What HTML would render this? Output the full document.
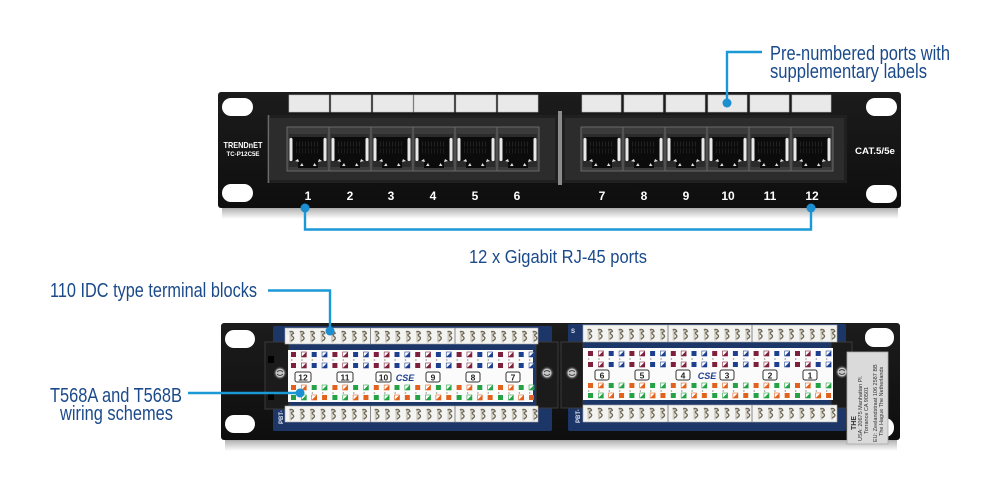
<!DOCTYPE html>
<html>
<head>
<meta charset="utf-8">
<style>
html,body{margin:0;padding:0;background:#fff;}
body{width:1000px;height:500px;overflow:hidden;}
svg{display:block;font-family:"Liberation Sans",Arial,sans-serif;}
</style>
</head>
<body>
<svg width="1000" height="500" viewBox="0 0 1000 500" xmlns="http://www.w3.org/2000/svg">
<defs>
  <linearGradient id="sh" x1="0" y1="0" x2="0" y2="1">
    <stop offset="0" stop-color="#6e6e6e"/>
    <stop offset="0.35" stop-color="#b9b9b9"/>
    <stop offset="1" stop-color="#ffffff"/>
  </linearGradient>
  <linearGradient id="body" x1="0" y1="0" x2="0" y2="1">
    <stop offset="0" stop-color="#1c1c1c"/>
    <stop offset="1" stop-color="#0e0e0e"/>
  </linearGradient>
  <!-- RJ45 port cell 42x44 -->
  <g id="pt">
    <rect x="0" y="0" width="42" height="44" fill="#3b3b3b" stroke="#6a6a6a" stroke-width="1"/>
    <rect x="2" y="7" width="38" height="33" fill="#2b2b2b"/>
    <path d="M5 10 H37 V34 H31 V41 H11 V34 H5 Z" fill="#0b0b0b"/>
    <line x1="9" y1="17" x2="33" y2="17" stroke="#222" stroke-width="5" stroke-dasharray="1 2"/>
    <line x1="9" y1="24" x2="33" y2="24" stroke="#1c1c1c" stroke-width="5" stroke-dasharray="1 2"/>
    <rect x="2.5" y="11" width="3" height="23" rx="1.3" fill="#e8e8e8"/>
    <rect x="36.5" y="11" width="3" height="23" rx="1.3" fill="#e8e8e8"/>
    <path d="M8 34 l3 -2 l1 3 z M13 39 l2 -3 l1.5 3 z M26 39 l1.5 -3 l2 3 z M31 35 l1 -3 l3 2 z" fill="#e0e0e0"/>
  </g>
  <!-- IDC contact -->
  <g id="ct">
    <rect x="1.5" y="0.5" width="2.2" height="12" fill="#cfcabd"/>
    <path d="M1.5 2 q3.5 -1.5 4 1.5 q-3.5 1 -1 3 q3 2 -1.5 4.5" fill="none" stroke="#6c6756" stroke-width="1.3"/>
  </g>
  <g id="cr">
    <use href="#ct" x="3"/><use href="#ct" x="13.4"/><use href="#ct" x="23.8"/><use href="#ct" x="34.2"/>
    <use href="#ct" x="44.6"/><use href="#ct" x="55"/><use href="#ct" x="65.4"/><use href="#ct" x="75.8"/>
    <use href="#ct" x="88.2"/><use href="#ct" x="98.6"/><use href="#ct" x="109"/><use href="#ct" x="119.4"/>
    <use href="#ct" x="129.8"/><use href="#ct" x="140.2"/><use href="#ct" x="150.6"/><use href="#ct" x="161"/>
    <use href="#ct" x="173.4"/><use href="#ct" x="183.8"/><use href="#ct" x="194.2"/><use href="#ct" x="204.6"/>
    <use href="#ct" x="215"/><use href="#ct" x="225.4"/><use href="#ct" x="235.8"/><use href="#ct" x="246.2"/>
  </g>
  <!-- squares -->
  <rect id="qm" width="5" height="5" fill="#7e1f3c"/>
  <rect id="qn" width="5" height="5" fill="#1d3f8f"/>
  <rect id="qo" width="5" height="5" fill="#e2621d"/>
  <rect id="qg" width="5" height="5" fill="#24a244"/>
  <g id="hm"><rect width="5" height="5" fill="#fff" stroke="#7e1f3c" stroke-width=".6"/><path d="M5 0 V5 H0 Z" fill="#7e1f3c"/></g>
  <g id="hn"><rect width="5" height="5" fill="#fff" stroke="#1d3f8f" stroke-width=".6"/><path d="M5 0 V5 H0 Z" fill="#1d3f8f"/></g>
  <g id="ho"><rect width="5" height="5" fill="#fff" stroke="#e2621d" stroke-width=".6"/><path d="M5 0 V5 H0 Z" fill="#e2621d"/></g>
  <g id="hg"><rect width="5" height="5" fill="#fff" stroke="#24a244" stroke-width=".6"/><path d="M5 0 V5 H0 Z" fill="#24a244"/></g>
  <g id="r1">
    <use href="#qm" x="0"/><use href="#hm" x="10.35"/><use href="#qn" x="20.7"/><use href="#hn" x="31.05"/>
    <use href="#qm" x="41.4"/><use href="#hm" x="51.75"/><use href="#qn" x="62.1"/><use href="#hn" x="72.45"/>
    <use href="#qm" x="82.8"/><use href="#hm" x="93.15"/><use href="#qn" x="103.5"/><use href="#hn" x="113.85"/>
    <use href="#qm" x="124.2"/><use href="#hm" x="134.55"/><use href="#qn" x="144.9"/><use href="#hn" x="155.25"/>
    <use href="#qm" x="165.6"/><use href="#hm" x="175.95"/><use href="#qn" x="186.3"/><use href="#hn" x="196.65"/>
    <use href="#qm" x="207"/><use href="#hm" x="217.35"/><use href="#qn" x="227.7"/><use href="#hn" x="238.05"/>
  </g>
  <g id="r3">
    <use href="#qo" x="0"/><use href="#ho" x="10.35"/><use href="#qg" x="20.7"/><use href="#hg" x="31.05"/>
    <use href="#qo" x="41.4"/><use href="#ho" x="51.75"/><use href="#qg" x="62.1"/><use href="#hg" x="72.45"/>
    <use href="#qo" x="82.8"/><use href="#ho" x="93.15"/><use href="#qg" x="103.5"/><use href="#hg" x="113.85"/>
    <use href="#qo" x="124.2"/><use href="#ho" x="134.55"/><use href="#qg" x="144.9"/><use href="#hg" x="155.25"/>
    <use href="#qo" x="165.6"/><use href="#ho" x="175.95"/><use href="#qg" x="186.3"/><use href="#hg" x="196.65"/>
    <use href="#qo" x="207"/><use href="#ho" x="217.35"/><use href="#qg" x="227.7"/><use href="#hg" x="238.05"/>
  </g>
  <g id="r4">
    <use href="#qg" x="0"/><use href="#hg" x="10.35"/><use href="#ho" x="20.7"/><use href="#qo" x="31.05"/>
    <use href="#qg" x="41.4"/><use href="#hg" x="51.75"/><use href="#ho" x="62.1"/><use href="#qo" x="72.45"/>
    <use href="#qg" x="82.8"/><use href="#hg" x="93.15"/><use href="#ho" x="103.5"/><use href="#qo" x="113.85"/>
    <use href="#qg" x="124.2"/><use href="#hg" x="134.55"/><use href="#ho" x="144.9"/><use href="#qo" x="155.25"/>
    <use href="#qg" x="165.6"/><use href="#hg" x="175.95"/><use href="#ho" x="186.3"/><use href="#qo" x="196.65"/>
    <use href="#qg" x="207"/><use href="#hg" x="217.35"/><use href="#ho" x="227.7"/><use href="#qo" x="238.05"/>
  </g>
  <line id="dr" x1="2" y1="0" x2="244" y2="0" stroke="#8a8a8a" stroke-width="1.3" stroke-dasharray="1.3 9.05"/>
  <g id="scr">
    <circle r="6.5" fill="#2a2a2a"/>
    <circle r="5" fill="#c9c9c9" stroke="#555" stroke-width="1"/>
    <path d="M-3 -1 q3 -3 6 0 M-3 1 q3 3 6 0" stroke="#444" stroke-width="1" fill="none"/>
  </g>
</defs>

<rect width="1000" height="500" fill="#fff"/>

<!-- ============ TOP PANEL ============ -->
<rect x="222" y="204" width="676" height="15" fill="url(#sh)"/>
<rect x="218" y="92" width="683" height="116" rx="3" fill="url(#body)"/>
<rect x="222" y="98" width="31" height="18" rx="9" fill="#fff"/>
<rect x="222" y="184" width="31" height="18" rx="9" fill="#fff"/>
<rect x="866" y="98" width="31" height="18" rx="9" fill="#fff"/>
<rect x="866" y="185" width="31" height="18" rx="9" fill="#fff"/>

<!-- label strips -->
<g fill="#e9e9e9" stroke="#bdbdbd" stroke-width=".6">
  <rect x="289" y="95" width="40" height="17"/>
  <rect x="331" y="95" width="40" height="17"/>
  <rect x="373" y="95" width="40" height="17"/>
  <rect x="414" y="95" width="40" height="17"/>
  <rect x="456" y="95" width="40" height="17"/>
  <rect x="498" y="95" width="40" height="17"/>
  <rect x="582" y="95" width="39" height="17"/>
  <rect x="624" y="95" width="39" height="17"/>
  <rect x="666" y="95" width="39" height="17"/>
  <rect x="708" y="95" width="39" height="17"/>
  <rect x="750" y="95" width="39" height="17"/>
  <rect x="792" y="95" width="39" height="17"/>
</g>

<!-- recesses -->
<rect x="267" y="115" width="291" height="68" fill="#202020"/>
<rect x="270" y="118" width="285" height="62" fill="#2c2c2c"/>
<line x1="268.5" y1="115" x2="268.5" y2="183" stroke="#6a6a6a" stroke-width="1.5"/>
<rect x="558" y="111" width="4" height="74" fill="#8c8c8c"/>
<rect x="562" y="115" width="285" height="68" fill="#202020"/>
<rect x="565" y="118" width="279" height="62" fill="#2c2c2c"/>

<use href="#pt" x="287" y="127"/>
<use href="#pt" x="329" y="127"/>
<use href="#pt" x="371" y="127"/>
<use href="#pt" x="413" y="127"/>
<use href="#pt" x="455" y="127"/>
<use href="#pt" x="497" y="127"/>
<use href="#pt" x="581" y="127"/>
<use href="#pt" x="623" y="127"/>
<use href="#pt" x="665" y="127"/>
<use href="#pt" x="707" y="127"/>
<use href="#pt" x="749" y="127"/>
<use href="#pt" x="791" y="127"/>

<!-- port numbers -->
<g fill="#fff" font-size="12" font-weight="bold" text-anchor="middle">
  <text x="308" y="200">1</text>
  <text x="350" y="200">2</text>
  <text x="391" y="200">3</text>
  <text x="433" y="200">4</text>
  <text x="475" y="200">5</text>
  <text x="517" y="200">6</text>
  <text x="602" y="200">7</text>
  <text x="644" y="200">8</text>
  <text x="686" y="200">9</text>
  <text x="728" y="200">10</text>
  <text x="770" y="200">11</text>
  <text x="812" y="200">12</text>
</g>
<text x="243" y="148" fill="#fff" font-size="8.5" font-weight="bold" text-anchor="middle" textLength="39" lengthAdjust="spacingAndGlyphs">TRENDnET</text>
<text x="243" y="156" fill="#fff" font-size="6.5" font-weight="bold" text-anchor="middle" textLength="33" lengthAdjust="spacingAndGlyphs">TC-P12C5E</text>
<text x="875" y="154" fill="#fff" font-size="9" font-weight="bold" text-anchor="middle" textLength="40" lengthAdjust="spacingAndGlyphs">CAT.5/5e</text>

<!-- ============ BOTTOM PANEL ============ -->
<rect x="225" y="436" width="672" height="15" fill="url(#sh)"/>
<rect x="221" y="323" width="679" height="117" rx="3" fill="url(#body)"/>
<rect x="225" y="330" width="30" height="18" rx="9" fill="#fff"/>
<rect x="225" y="415" width="30" height="18" rx="9" fill="#fff"/>
<rect x="865" y="328" width="29" height="19" rx="9" fill="#fff"/>
<rect x="865" y="418" width="29" height="19" rx="9" fill="#fff"/>

<!-- boards -->
<rect x="273" y="326" width="279" height="105" rx="2" fill="#1d3668"/>
<rect x="568" y="324" width="278" height="107" rx="2" fill="#1d3668"/>

<!-- housings -->
<rect x="265" y="342" width="24" height="67" fill="#1b1b1b" stroke="#3a3a3a" stroke-width="1"/>
<rect x="536" y="342" width="22" height="66" fill="#1b1b1b" stroke="#3a3a3a" stroke-width="1"/>
<rect x="561" y="342" width="22" height="66" fill="#1b1b1b" stroke="#3a3a3a" stroke-width="1"/>
<rect x="831" y="342" width="21" height="66" fill="#1b1b1b" stroke="#3a3a3a" stroke-width="1"/>
<rect x="268" y="356" width="6" height="7" fill="#000"/>
<rect x="268" y="393" width="6" height="7" fill="#000"/>
<use href="#scr" x="280" y="373"/>
<use href="#scr" x="547" y="373"/>
<use href="#scr" x="572" y="373"/>
<use href="#scr" x="842" y="372"/>

<!-- IDC strips -->
<g fill="#f3f3f1" stroke="#a8a8a8" stroke-width=".6">
  <rect x="285" y="328" width="253" height="16"/>
  <rect x="285" y="406" width="253" height="16"/>
  <rect x="583" y="325" width="254" height="17"/>
  <rect x="583" y="405" width="254" height="17"/>
</g>
<g stroke="#8a8a8a" stroke-width="1">
  <line x1="370.5" y1="328" x2="370.5" y2="344"/><line x1="455" y1="328" x2="455" y2="344"/>
  <line x1="370.5" y1="406" x2="370.5" y2="422"/><line x1="455" y1="406" x2="455" y2="422"/>
  <line x1="668" y1="325" x2="668" y2="342"/><line x1="752" y1="325" x2="752" y2="342"/>
  <line x1="668" y1="405" x2="668" y2="422"/><line x1="752" y1="405" x2="752" y2="422"/>
</g>
<use href="#cr" x="285" y="330"/>
<use href="#cr" x="285" y="408"/>
<use href="#cr" x="583" y="328"/>
<use href="#cr" x="583" y="407"/>

<!-- mid white -->
<rect x="288" y="350" width="245" height="52" fill="#fbfbfb"/>
<rect x="583" y="348" width="250" height="52" fill="#fbfbfb"/>

<use href="#r1" x="291" y="352"/>
<use href="#dr" x="289" y="360"/>
<use href="#r1" x="291" y="363"/>
<use href="#r3" x="291" y="385"/>
<use href="#dr" x="289" y="393"/>
<use href="#r4" x="291" y="395"/>

<use href="#r1" x="588" y="351"/>
<use href="#dr" x="586" y="359"/>
<use href="#r1" x="588" y="362"/>
<use href="#r3" x="588" y="383"/>
<use href="#dr" x="586" y="391"/>
<use href="#r4" x="588" y="393"/>

<!-- number boxes -->
<g fill="#fff" stroke="#333" stroke-width="1">
  <rect x="295" y="372" width="16" height="10" rx="2"/>
  <rect x="337" y="372" width="16" height="10" rx="2"/>
  <rect x="376" y="372" width="15" height="10" rx="2"/>
  <rect x="426" y="372" width="14" height="10" rx="2"/>
  <rect x="466" y="372" width="14" height="10" rx="2"/>
  <rect x="506" y="372" width="14" height="10" rx="2"/>
  <rect x="595" y="370" width="14" height="10" rx="2"/>
  <rect x="635" y="370" width="14" height="10" rx="2"/>
  <rect x="676" y="370" width="14" height="10" rx="2"/>
  <rect x="720" y="370" width="14" height="10" rx="2"/>
  <rect x="763" y="370" width="14" height="10" rx="2"/>
  <rect x="803" y="370" width="14" height="10" rx="2"/>
</g>
<g fill="#222" font-size="8.5" font-weight="bold" text-anchor="middle">
  <text x="303" y="380.5">12</text>
  <text x="345" y="380.5">11</text>
  <text x="383.5" y="380.5">10</text>
  <text x="433" y="380.5">9</text>
  <text x="473" y="380.5">8</text>
  <text x="513" y="380.5">7</text>
  <text x="602" y="378.5">6</text>
  <text x="642" y="378.5">5</text>
  <text x="683" y="378.5">4</text>
  <text x="727" y="378.5">3</text>
  <text x="770" y="378.5">2</text>
  <text x="810" y="378.5">1</text>
</g>
<g fill="#1d3f8f" font-size="9" font-weight="bold" font-style="italic" text-anchor="middle">
  <text x="405" y="381">CSE</text>
  <text x="707" y="379">CSE</text>
</g>
<g fill="#dfe6f2" font-size="6" font-weight="bold">
  <text transform="translate(283,424) rotate(-90)">PBT-</text>
  <text transform="translate(580,423) rotate(-90)">PBT-</text>
  <text x="286" y="334">S</text>
  <text x="571" y="333">S</text>
</g>

<!-- sticker -->
<rect x="847" y="352" width="41" height="92" fill="#dadada" stroke="#a9a9a9" stroke-width=".8"/>
<g fill="#333" font-size="5.5">
  <text transform="translate(856,430) rotate(-90)" font-weight="bold" font-size="7">THE</text>
  <text transform="translate(862,441) rotate(-90)">USA: 20675 Manhattan Pl.</text>
  <text transform="translate(868,434) rotate(-90)">Torrance CA 90501</text>
  <text transform="translate(877,442) rotate(-90)">EU: Zeelandstraat 106 2587 BB</text>
  <text transform="translate(883,436) rotate(-90)">The Hague The Netherlands</text>
</g>

<!-- ============ CALLOUTS ============ -->
<g stroke="#1b98d6" stroke-width="2.4" fill="none">
  <path d="M762 52 H727 V103"/>
  <path d="M305 208 V229.5 H811 V208"/>
  <path d="M268 290.5 H330 V330"/>
  <path d="M188 393 H300"/>
</g>
<g fill="#1b8fd0">
  <circle cx="727" cy="103" r="4.5"/>
  <circle cx="305" cy="208" r="4.5"/>
  <circle cx="811" cy="208" r="4.5"/>
  <circle cx="330" cy="331" r="4.5"/>
  <circle cx="300" cy="393" r="4.5"/>
</g>

<g fill="#1b4a8b" font-size="20">
  <text x="770" y="60" textLength="180" lengthAdjust="spacingAndGlyphs">Pre-numbered ports with</text>
  <text x="770" y="78" textLength="157" lengthAdjust="spacingAndGlyphs">supplementary labels</text>
  <text x="469" y="263" font-size="18.5" textLength="178" lengthAdjust="spacingAndGlyphs">12 x Gigabit RJ-45 ports</text>
  <text x="50" y="297" textLength="207" lengthAdjust="spacingAndGlyphs">110 IDC type terminal blocks</text>
  <text x="50" y="402" textLength="132" lengthAdjust="spacingAndGlyphs">T568A and T568B</text>
  <text x="60" y="420" textLength="113" lengthAdjust="spacingAndGlyphs">wiring schemes</text>
</g>
</svg>
</body>
</html>
